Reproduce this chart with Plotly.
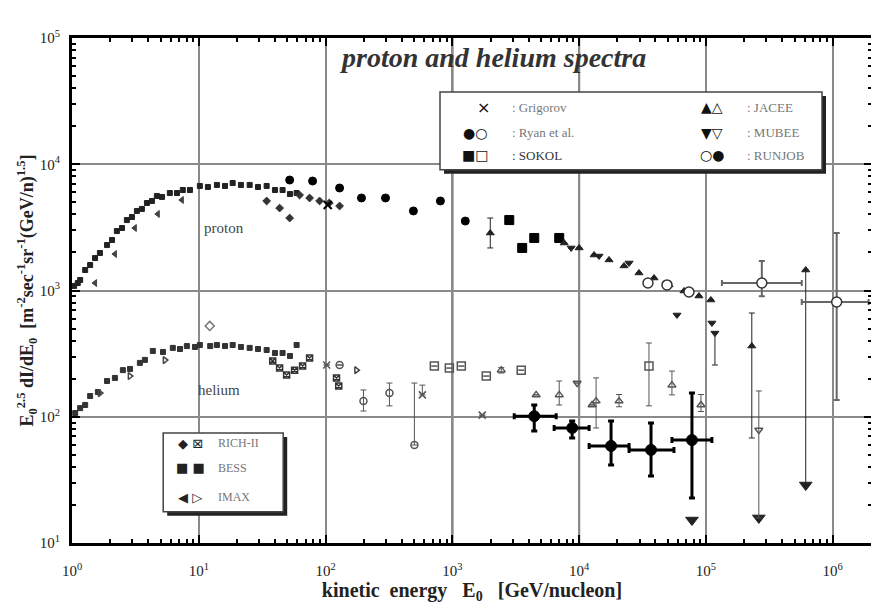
import plotly.graph_objects as go

# ---------------- data (kinetic energy GeV/n, E^2.5 dI/dE) ----------------
# BESS-like smooth low-energy spectra
bess_p_E = [1.04, 1.11, 1.16, 1.27, 1.39, 1.52, 1.66, 1.89, 2.07, 2.26, 2.48, 2.71, 2.97, 3.25, 3.56, 3.90,
            4.27, 4.67, 5.13, 5.91, 6.73, 7.48, 8.52, 10.2, 11.8, 13.9, 16.1, 18.5, 21.5, 25.2, 29.3, 34.3,
            39.9, 45.8, 52.4, 59.1]
bess_p_F = [1087, 1146, 1211, 1453, 1592, 1807, 1982, 2291, 2512, 2958, 3126, 3614, 3820, 4266, 4426, 4932,
            5117, 5610, 5508, 5916, 5916, 6252, 6252, 6730, 6607, 6855, 6730, 7100, 6855, 6855, 6607, 6730,
            6252, 6250, 5808, 5916]
bess_he_E = [1.06, 1.16, 1.27, 1.39, 1.60, 1.89, 2.18, 2.52, 2.87, 3.43, 3.76, 4.34, 5.22, 6.24, 7.11, 8.05,
             9.33, 10.2, 12.3, 13.9, 16.1, 18.5, 21.5, 25.2, 29.3, 34.3, 39.9, 45.8, 52.4, 59.1]
bess_he_F = [107, 117, 124, 146, 157, 192, 203, 234, 239, 267, 282, 332, 326, 351, 344, 363,
             357, 370, 363, 370, 363, 370, 357, 351, 344, 338, 320, 320, 303, 370]

# IMAX-like
imax_p_E = [1.52, 2.18, 3.13, 4.75, 7.35]
imax_p_F = [1146, 1945, 3126, 4036, 5212]
imax_he_E = [1.66, 2.86, 5.40, 175]
imax_he_F = [154, 210, 281, 234]

# RICH-II-like
rich_p_E = [34.3, 43.4, 52.1, 62.4, 74.8, 89.7, 107, 129]
rich_p_F = [5117, 4498, 3750, 5702, 5405, 5117, 4932, 4668]
rich_he_E = [38.3, 43.4, 49.3, 57.0, 65.9, 74.8, 122, 127]
rich_he_F = [277, 243, 214, 234, 252, 292, 203, 175]
rich_he_out_E = [12.2]
rich_he_out_F = [524]

# Ryan et al.
ryan_p_E = [52.1, 79.0, 129, 192, 297, 493, 805, 1265]
ryan_p_F = [7500, 7365, 6486, 5405, 5405, 4266, 5117, 3548]
ryan_he_E = [129, 199, 319, 502]
ryan_he_F = [257, 133, 154, 59.7]
ryan_he_up = [257, 163, 185, 185]
ryan_he_dn = [257, 111, 122, 59.7]

# Grigorov
grig_p_E = [104]
grig_p_F = [4755]
grig_he_E = [102, 580, 1722]
grig_he_F = [257, 149, 103]
grig_he_up = [257, 178, 103]

# SOKOL
sokol_p_E = [2812, 3556, 4426, 6966]
sokol_p_F = [3614, 2173, 2606, 2606]
sokol_he_E = [721, 947, 1177, 1852, 3494, 35560]
sokol_he_F = [252, 243, 252, 210, 234, 252]
sokol_he_up = [252, 243, 252, 210, 234, 384]
sokol_he_dn = [252, 243, 252, 210, 234, 122]

# JACEE
jacee_p_E = [1991, 7621, 10000, 13120, 17220, 22600, 29650, 38990, 51170, 67140, 88100, 109400, 230100, 612800]
jacee_p_F = [2851, 2377, 2173, 1910, 1746, 1565, 1377, 1256, 1107, 991, 904, 841, 363, 1453]
jacee_p_up = [3750, 2377, 2173, 1910, 1746, 1565, 1377, 1256, 1107, 991, 904, 841, 663, 1453]
jacee_p_dn = [2173, 2377, 2173, 1910, 1746, 1565, 1377, 1256, 1107, 991, 904, 841, 67.9, 28.8]
jacee_he_E = [2432, 4581, 6966, 12650, 13610, 20650, 53950, 91400]
jacee_he_F = [234, 149, 149, 124, 133, 133, 178, 124]
jacee_he_up = [245, 149, 192, 124, 203, 150, 230, 150]
jacee_he_dn = [222, 149, 124, 124, 81.5, 120, 149, 110]

# MUBEE
mubee_p_E = [8650, 14360, 24770, 59160, 111500, 117800]
mubee_p_F = [2173, 1875, 1652, 640, 553, 460]
mubee_p_dn = [2173, 1875, 1652, 640, 553, 257]
mubee_he_E = [9640, 261400]
mubee_he_F = [185, 78.5]
mubee_he_up = [185, 160]
mubee_he_dn = [185, 15.8]

# RUNJOB
runjob_p_E = [34920, 49320, 73500, 276100, 1075000]
runjob_p_F = [1146, 1107, 973, 1146, 811]
runjob_p_Elo = [34920, 49320, 73500, 133700, 570000]
runjob_p_Ehi = [34920, 49320, 73500, 570000, 1920000]
runjob_p_up = [1146, 1107, 973, 1714, 2851]
runjob_p_dn = [1146, 1107, 973, 900, 136]
runjob_he_E = [4426, 8810, 17860, 36900, 77600]
runjob_he_F = [101, 81.5, 58.7, 54.6, 65.4]
runjob_he_Elo = [3076, 6353, 11990, 24770, 53950]
runjob_he_Ehi = [6590, 11990, 24770, 55980, 111500]
runjob_he_up = [124, 92.5, 92.5, 89.2, 154]
runjob_he_dn = [77.1, 67.9, 41.5, 34.0, 22.7]

# upper-limit arrows (energy, arrow tip)
arrow_E = [77600, 261400, 612800]
arrow_F = [15.2, 15.8, 28.8]

x_ticks = [1, 10, 100, 1e3, 1e4, 1e5, 1e6]
x_ticktext = ["10<sup>0</sup>", "10<sup>1</sup>", "10<sup>2</sup>", "10<sup>3</sup>",
              "10<sup>4</sup>", "10<sup>5</sup>", "10<sup>6</sup>"]
y_ticks = [10, 100, 1e3, 1e4, 1e5]
y_ticktext = ["10<sup>1</sup>", "10<sup>2</sup>", "10<sup>3</sup>", "10<sup>4</sup>", "10<sup>5</sup>"]

# ---------------- figure ----------------
fig = go.Figure()


def pts(E, F, symbol, size=6, color="black", up=None, dn=None, elo=None, ehi=None, ew=1, lw=1):
    kw = {}
    if up is not None or dn is not None:
        upv = [u - f for u, f in zip(up if up else F, F)]
        dnv = [f - d for d, f in zip(dn if dn else F, F)]
        kw["error_y"] = dict(type="data", symmetric=False, array=upv, arrayminus=dnv,
                             color=color, thickness=ew, width=3)
    if elo is not None:
        kw["error_x"] = dict(type="data", symmetric=False,
                             array=[h - e for h, e in zip(ehi, E)],
                             arrayminus=[e - l for l, e in zip(elo, E)],
                             color=color, thickness=ew, width=3)
    fig.add_trace(go.Scatter(x=E, y=F, mode="markers", showlegend=False,
                             marker=dict(symbol=symbol, size=size, color=color,
                                         line=dict(color=color, width=lw)), **kw))


pts(arrow_E, arrow_F, "triangle-down", size=11, color="#222")

pts(bess_p_E, bess_p_F, "square", 5, "#222")
pts(bess_he_E, bess_he_F, "square", 5, "#333")
pts(imax_p_E, imax_p_F, "triangle-left", 6, "#444")
pts(imax_he_E, imax_he_F, "triangle-right-open", 6, "#444", lw=1.5)
pts(rich_p_E, rich_p_F, "diamond", 6, "#333")
pts(rich_he_E, rich_he_F, "square-x-open", 6, "#333", lw=1.5)
pts(rich_he_out_E, rich_he_out_F, "diamond-open", 7, "#777", lw=1.5)
pts(ryan_p_E, ryan_p_F, "circle", 8, "black")
pts(ryan_he_E, ryan_he_F, "circle-open", 7, "#555", up=ryan_he_up, dn=ryan_he_dn, lw=1.5)
pts(grig_p_E, grig_p_F, "x-thin-open", 8, "black", lw=2)
pts(grig_he_E, grig_he_F, "x-thin-open", 7, "#555", up=grig_he_up, lw=1.5)
pts(sokol_p_E, sokol_p_F, "square", 9, "black")
pts(sokol_he_E, sokol_he_F, "square-open", 8, "#555", up=sokol_he_up, dn=sokol_he_dn, lw=1.5)
pts(jacee_p_E, jacee_p_F, "triangle-up", 7, "#222", up=jacee_p_up, dn=jacee_p_dn)
pts(jacee_he_E, jacee_he_F, "triangle-up-open", 7, "#555", up=jacee_he_up, dn=jacee_he_dn, lw=1.5)
pts(mubee_p_E, mubee_p_F, "triangle-down", 7, "#222", dn=mubee_p_dn)
pts(mubee_he_E, mubee_he_F, "triangle-down-open", 7, "#555", up=mubee_he_up, dn=mubee_he_dn, lw=1.5)
pts(runjob_p_E, runjob_p_F, "circle", 10, "white", up=runjob_p_up, dn=runjob_p_dn,
    elo=runjob_p_Elo, ehi=runjob_p_Ehi, ew=2)
fig.data[-1].marker.line.color = "#333"
fig.data[-1].marker.line.width = 1.5
fig.data[-1].error_y.color = "#666"
fig.data[-1].error_x.color = "#666"
pts(runjob_he_E, runjob_he_F, "circle", 11, "black", up=runjob_he_up, dn=runjob_he_dn,
    elo=runjob_he_Elo, ehi=runjob_he_Ehi, ew=3)

minor_x = [m * 10 ** k for k in range(0, 7) for m in range(2, 10) if m * 10 ** k < 2e6]
minor_y = [m * 10 ** k for k in range(1, 5) for m in range(2, 10)]

serif = "Liberation Serif, Times New Roman, serif"
axis_common = dict(type="log", showline=True, linewidth=3, linecolor="black", mirror="ticks",
                   ticks="inside", ticklen=8, tickwidth=1.5, tickcolor="black",
                   showgrid=True, gridcolor="#8a8a8a", gridwidth=1.5, zeroline=False,
                   automargin=False,
                   tickfont=dict(family=serif, size=15, color="#222"))

fig.update_xaxes(**axis_common, range=[0, 6.31], tickmode="array", tickvals=x_ticks, ticktext=x_ticktext,
                 minor=dict(tickmode="array", tickvals=minor_x, ticks="inside", ticklen=4,
                            tickcolor="black", showgrid=False),
                 ticklabelstandoff=12)
fig.update_yaxes(**axis_common, range=[1, 5], tickmode="array", tickvals=y_ticks, ticktext=y_ticktext,
                 minor=dict(tickmode="array", tickvals=minor_y, ticks="inside", ticklen=4,
                            tickcolor="black", showgrid=False),
                 ticklabelstandoff=6)

shapes = []
for xv in [1e3, 1e4]:
    shapes.append(dict(type="line", xref="x", yref="paper", x0=xv, x1=xv, y0=0, y1=1,
                       line=dict(color="#222", width=2), layer="below"))


def box(x0, y0, x1, y1):
    shapes.append(dict(type="rect", xref="paper", yref="paper", x0=x0 + 0.005, x1=x1 + 0.005,
                       y0=y0 - 0.008, y1=y1 - 0.008, fillcolor="#222", line=dict(width=0), layer="above"))
    shapes.append(dict(type="rect", xref="paper", yref="paper", x0=x0, x1=x1, y0=y0, y1=y1,
                       fillcolor="white", line=dict(color="#444", width=1.5), layer="above"))


box(0.46, 0.739, 0.9375, 0.893)
box(0.114, 0.062, 0.264, 0.218)

ann = []


def txt(x, y, s, size=11, color="#777", family=serif, xanchor="left"):
    ann.append(dict(x=x, y=y, xref="paper", yref="paper", text=s, showarrow=False,
                    xanchor=xanchor, yanchor="middle", font=dict(family=family, size=size, color=color)))


sym = "DejaVu Sans"
rows1 = [0.863, 0.812, 0.768]
txt(0.514, rows1[0], "×", 16, "#111", sym, "center")
txt(0.504, rows1[1], "●○", 14, "#111", sym, "center")
txt(0.504, rows1[2], "■□", 14, "#111", sym, "center")
txt(0.548, rows1[0], ": Grigorov", 13)
txt(0.548, rows1[1], ": Ryan et al.", 13)
txt(0.548, rows1[2], ": SOKOL", 13, "#333")
txt(0.80, rows1[0], "▲△", 14, "#111", sym, "center")
txt(0.80, rows1[1], "▼▽", 14, "#111", sym, "center")
txt(0.80, rows1[2], "○●", 14, "#111", sym, "center")
txt(0.841, rows1[0], ": JACEE", 13)
txt(0.841, rows1[1], ": MUBEE", 13)
txt(0.841, rows1[2], ": RUNJOB", 13)

rows2 = [0.198, 0.149, 0.091]
txt(0.1475, rows2[0], "◆ ⊠", 13, "#222", sym, "center")
txt(0.1475, rows2[1], "■ ■", 13, "#222", sym, "center")
txt(0.1475, rows2[2], "◀ ▷", 13, "#222", sym, "center")
txt(0.18, rows2[0], "RICH-II", 12)
txt(0.18, rows2[1], "BESS", 12)
txt(0.18, rows2[2], "IMAX", 12)

txt(0.526, 0.962, "<b><i>proton and helium spectra</i></b>", 28, "#333", serif, "center")
txt(0.19, 0.624, "proton", 15, "#444", serif, "center")
txt(0.184, 0.303, "helium", 15, "#444", serif, "center")

# page body has an 8px margin: size the figure so plot area lands where the reference's does
fig.update_layout(
    width=871, height=596,
    margin=dict(l=64, r=7, t=30, b=61, autoexpand=False),
    paper_bgcolor="white", plot_bgcolor="white",
    shapes=shapes, annotations=ann, showlegend=False,
    xaxis_title=dict(text="<b>kinetic  energy   E<sub>0</sub>   [GeV/nucleon]</b>",
                     font=dict(family=serif, size=20, color="#222"), standoff=0),
    yaxis_title=dict(text="<b>E<sub>0</sub><sup>2.5</sup> dI/dE<sub>0</sub>  [m<sup>-2</sup>sec<sup>-1</sup>sr<sup>-1</sup>(GeV/n)<sup>1.5</sup>]</b>",
                     font=dict(family=serif, size=18, color="#222"), standoff=0),
)

fig.write_html("out.html")
